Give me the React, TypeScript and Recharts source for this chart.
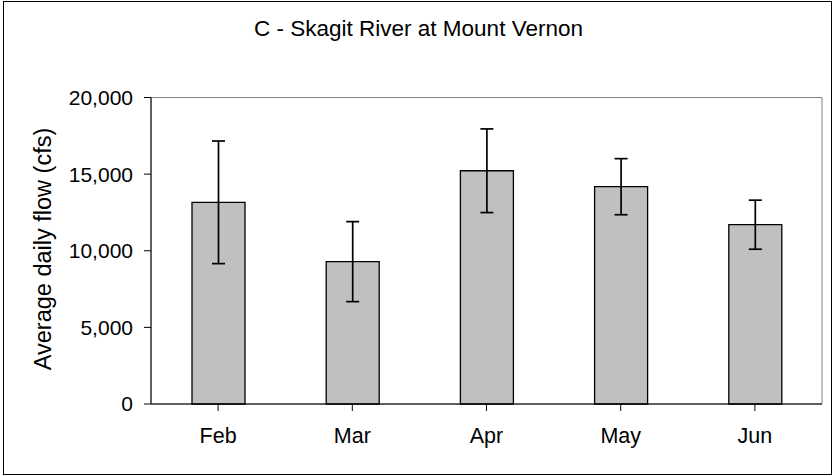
import React from "react";
import { BarChart, Bar, XAxis, YAxis, ErrorBar, ReferenceArea } from "recharts";

const months = ["Feb", "Mar", "Apr", "May", "Jun"];
const meanFlow = [13160, 9290, 15220, 14180, 11700];
const flowError = [4000, 2610, 2730, 1830, 1600];
const yTicks = [0, 5000, 10000, 15000, 20000];

const data = months.map((m, i) => ({ month: m, flow: meanFlow[i], err: flowError[i] }));

const FONT = "'Liberation Sans', Arial, sans-serif";

export default function App() {
  return (
    <div style={{ position: "absolute", left: 0, top: 0, width: 833, height: 476, background: "#fff" }}>
      <div
        style={{
          position: "absolute",
          left: 3,
          top: 1,
          width: 829,
          height: 474,
          boxSizing: "border-box",
          border: "1px solid #000",
        }}
      />
      <div
        style={{
          position: "absolute",
          left: 0,
          top: 16,
          width: 837,
          textAlign: "center",
          fontFamily: FONT,
          fontSize: 22.5,
          color: "#000",
        }}
      >
        C - Skagit River at Mount Vernon
      </div>
      <div
        style={{
          position: "absolute",
          left: 43,
          top: 249,
          width: 0,
          height: 0,
        }}
      >
        <div
          style={{
            position: "absolute",
            left: 0,
            top: 0,
            transform: "translate(-50%, -50%) rotate(-90deg)",
            whiteSpace: "nowrap",
            fontFamily: FONT,
            fontSize: 23.5,
            color: "#000",
          }}
        >
          Average daily flow (cfs)
        </div>
      </div>
      <div style={{ position: "absolute", left: 0, top: 0 }}>
        <BarChart
          width={833}
          height={476}
          data={data}
          margin={{ top: 97.5, right: 11, bottom: 42, left: 0 }}
          barSize={53}
        >
          <ReferenceArea
            y1={0}
            y2={20000}
            fill="none"
            stroke="#808080"
            strokeWidth={1}
            ifOverflow="extendDomain"
          />
          <XAxis
            dataKey="month"
            height={30}
            tickLine={{ stroke: "#000" }}
            axisLine={{ stroke: "#000" }}
            tickSize={7}
            tickMargin={17}
            tick={{ fill: "#000", fontFamily: FONT, fontSize: 21.5 }}
            interval={0}
            padding={{ left: 0, right: 0 }}
            scale="band"
          />
          <YAxis
            width={151}
            domain={[0, 20000]}
            ticks={yTicks}
            interval={0}
            tickSize={7}
            tickMargin={11}
            axisLine={{ stroke: "#000" }}
            tickLine={{ stroke: "#000" }}
            tick={{ fill: "#000", fontFamily: FONT, fontSize: 21 }}
            tickFormatter={(v: number) => v.toLocaleString("en-US")}
          />
          <Bar dataKey="flow" fill="#C0C0C0" stroke="#000" strokeWidth={1.3} isAnimationActive={false}>
            <ErrorBar dataKey="err" width={6.5} stroke="#000" strokeWidth={1.7} direction="y" />
          </Bar>
        </BarChart>
      </div>
    </div>
  );
}
